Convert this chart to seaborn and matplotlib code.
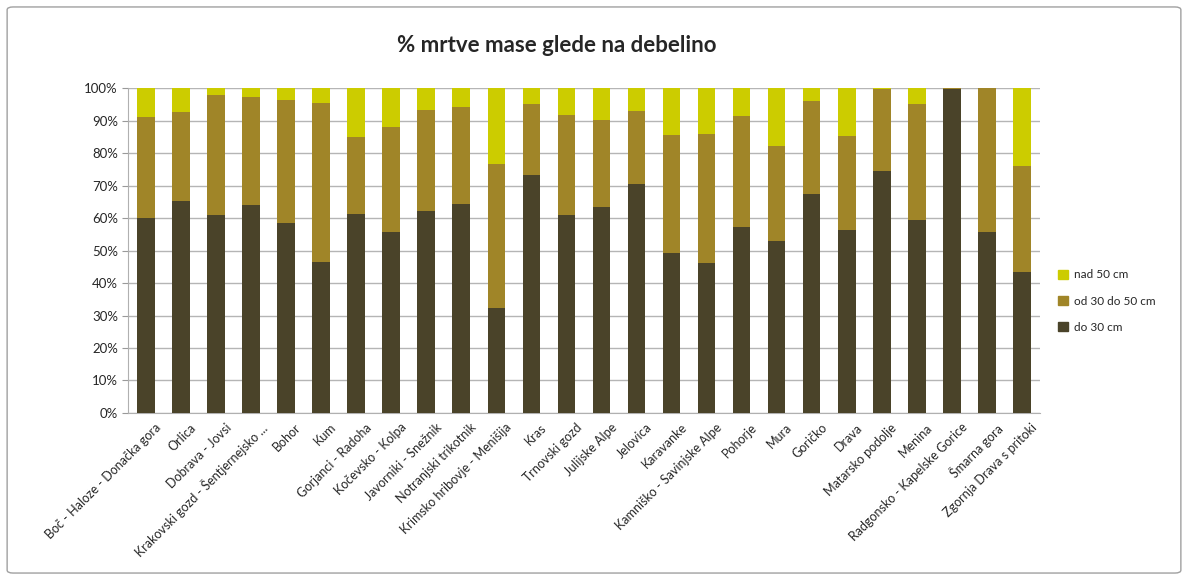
import numpy as np
import pandas as pd
import matplotlib
matplotlib.use("Agg")
import matplotlib.pyplot as plt
import matplotlib.patches as mpatches
import matplotlib.transforms as mtransforms
import seaborn as sns

# Data (% of dead mass per diameter class)
regions = [
    "Boč - Haloze - Donačka gora", "Orlica", "Dobrava - Jovsi",
    "Krakovski gozd - Šentjernejsko ...", "Bohor", "Kum", "Gorjanci - Radoha",
    "Kočevsko - Kolpa", "Javorniki - Snežnik", "Notranjski trikotnik",
    "Krimsko hribovje - Menišija", "Kras", "Trnovski gozd", "Julijske Alpe",
    "Jelovica", "Karavanke", "Kamniško - Savinjske Alpe", "Pohorje", "Mura",
    "Goričko", "Drava", "Matarsko podolje", "Menina",
    "Radgonsko - Kapelske Gorice", "Šmarna gora", "Zgornja Drava s pritoki",
]
do_30 = [60, 65.3, 61, 64, 58.5, 46.6, 61.3, 55.7, 62.1, 64.4,
         32.2, 73.2, 60.8, 63.4, 70.4, 49.3, 46.1, 57.2, 52.8,
         67.5, 56.2, 74.4, 59.3, 99.6, 55.7, 43.3]
od_30_do_50 = [31.2, 27.5, 36.9, 33.2, 37.9, 48.8, 23.8, 32.4, 31.2, 29.9,
               44.4, 22.0, 31.0, 26.8, 22.6, 36.3, 39.8, 34.3, 29.4,
               28.4, 29.1, 25.3, 35.9, 0.4, 44.3, 32.8]
nad_50 = [100 - a - b for a, b in zip(do_30, od_30_do_50)]

labels = ["nad 50 cm", "od 30 do 50 cm", "do 30 cm"]
colors = ["#CCCC00", "#A08528", "#4A4329"]

df = pd.DataFrame({"region": regions, "do30": do_30, "od30": od_30_do_50, "nad50": nad_50})
df["c1"] = df["do30"] / 100
df["c2"] = (df["do30"] + df["od30"]) / 100
df["c3"] = (df["do30"] + df["od30"] + df["nad50"]) / 100

sns.set_style("white")
plt.rcParams["font.family"] = ["Lato", "DejaVu Sans"]

fig = plt.figure(figsize=(11.88, 5.80), dpi=100)
ax = fig.add_axes([0.108, 0.288, 0.767, 0.56])

# stacked bars drawn as cumulative totals, top layer first
for col, color in zip(["c3", "c2", "c1"], colors):
    sns.barplot(data=df, x="region", y=col, color=color, width=0.5,
                saturation=1, linewidth=0, ax=ax, zorder=3)

ax.set_ylim(0, 1)
ax.set_xlim(-0.5, len(regions) - 0.5)
ax.set_yticks(np.arange(0, 1.01, 0.1))
ax.set_yticklabels([f"{int(v)}%" for v in np.arange(0, 101, 10)], fontsize=9.5)
ax.set_xticks(range(len(regions)))
ax.set_xticklabels(regions, rotation=45, ha="right", rotation_mode="anchor", fontsize=9)
ax.set_xticks(np.arange(-0.5, len(regions), 1), minor=True)
ax.tick_params(axis="x", which="major", length=0, pad=6)
ax.tick_params(axis="x", which="minor", length=4, color="#999999")
ax.tick_params(axis="y", length=4, color="#999999", left=True)
# nudge the rotated labels to the right, like the original
shift = mtransforms.ScaledTranslation(9 / 100, 0, fig.dpi_scale_trans)
for lab in ax.get_xticklabels():
    lab.set_transform(lab.get_transform() + shift)
ax.set_xlabel("")
ax.set_ylabel("")
ax.yaxis.grid(True, color="#b5b5b5", linewidth=1, zorder=0)
ax.set_axisbelow(True)
for side in ["top", "right"]:
    ax.spines[side].set_visible(False)
ax.spines["left"].set_color("#b0b0b0")
ax.spines["bottom"].set_color("#b0b0b0")

fig.suptitle("% mrtve mase glede na debelino", x=0.469, y=0.94,
             fontsize=16, fontweight="bold")

handles = [mpatches.Patch(color=c, label=l) for c, l in zip(colors, labels)]
fig.legend(handles=handles, loc="center left", bbox_to_anchor=(0.882, 0.481),
           frameon=False, fontsize=8.5, handlelength=0.8, handleheight=0.8,
           labelspacing=1.3, handletextpad=0.5)

fig.patches.append(mpatches.FancyBboxPatch((0.006, 0.012), 0.988, 0.976,
                                           boxstyle="round,pad=0,rounding_size=0.005",
                                           transform=fig.transFigure, fill=False,
                                           edgecolor="#a0a0a0", linewidth=1))

fig.savefig("out.png", dpi=100)
